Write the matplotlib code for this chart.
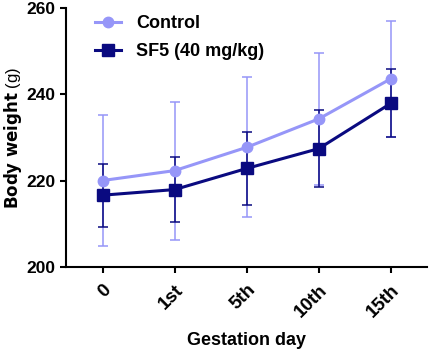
import matplotlib
matplotlib.use("Agg")
import matplotlib.pyplot as plt

plt.rcParams['font.family'] = ['Liberation Sans', 'DejaVu Sans']

days = ["0", "1st", "5th", "10th", "15th"]
control_mean = [220.0, 222.3, 227.7, 234.3, 243.6]
control_sd = [15.2, 16.0, 16.2, 15.3, 13.5]
sf5_mean = [216.6, 217.9, 222.8, 227.4, 237.9]
sf5_sd = [7.3, 7.6, 8.5, 8.9, 7.9]

light = "#9696f8"
dark = "#0a0a80"

fig = plt.figure(figsize=(4.29, 3.51), dpi=100)
ax = fig.add_axes([0.155, 0.24, 0.84, 0.737])

x = range(len(days))
c1 = ax.errorbar(x, control_mean, yerr=control_sd, color=light, marker="o",
                 markersize=7.5, linewidth=2.2, elinewidth=1.1, capsize=3.4,
                 capthick=1.1, clip_on=False)
c2 = ax.errorbar(x, sf5_mean, yerr=sf5_sd, color=dark, marker="s",
                 markersize=8, linewidth=2.2, elinewidth=1.1, capsize=3.4,
                 capthick=1.1, clip_on=False)

ax.set_xlim(-0.5, 4.5)
ax.set_ylim(200, 260)
ax.set_yticks([200, 220, 240, 260])
ax.set_xticks(list(x))
ax.set_xticklabels(days, rotation=45, ha="right", rotation_mode="anchor")

for s in ["top", "right"]:
    ax.spines[s].set_visible(False)
for s in ["left", "bottom"]:
    ax.spines[s].set_linewidth(1.5)
ax.tick_params(width=1.5, length=4.5)
ax.tick_params(axis="y", labelsize=12.5)
ax.tick_params(axis="x", labelsize=13.5, pad=6)
for lab in ax.get_xticklabels() + ax.get_yticklabels():
    lab.set_fontweight("bold")

ax.set_xlabel("Gestation day", fontsize=13, fontweight="bold", labelpad=8)
ax.set_ylabel(r"$\bf{Body\ weight}$ (g)", fontsize=12)
ax.yaxis.set_label_coords(-0.118, 0.5)

ax.legend([c1[0], c2[0]], ["Control", "SF5 (40 mg/kg)"], loc="upper left",
          bbox_to_anchor=(0.035, 1.035), frameon=False, handlelength=1.4,
          handletextpad=0.85, labelspacing=0.6,
          prop={"weight": "bold", "size": 13})

fig.savefig("out.png", dpi=100)
